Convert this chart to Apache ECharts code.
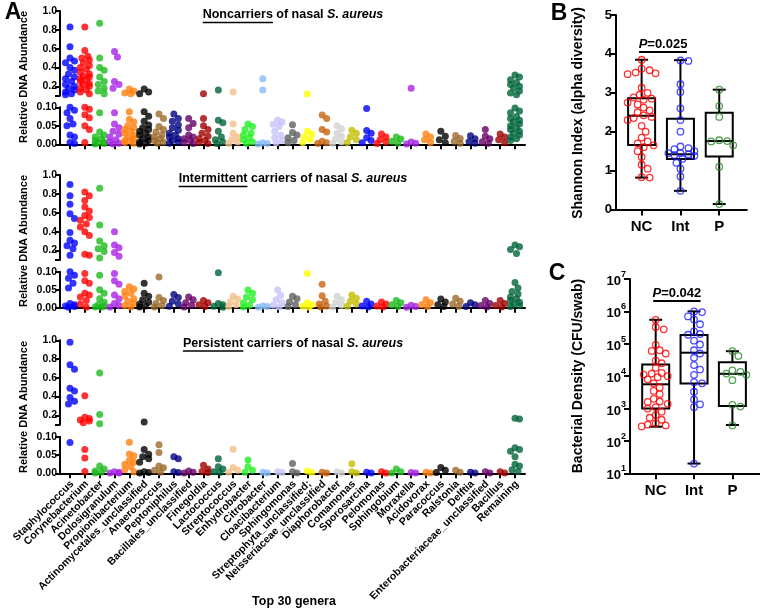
<!DOCTYPE html>
<html><head><meta charset="utf-8">
<script src="https://cdn.jsdelivr.net/npm/echarts@6/dist/echarts.min.js"></script>
<style>html,body{margin:0;padding:0;background:#fff}#c{width:760px;height:611px}</style>
</head><body><div id="c"></div>
<script>
// ---------------- DATA ----------------
const genera = ['Staphylococcus','Corynebacterium','Acinetobacter','Dolosigranulum','Propionibacterium','Actinomycetales_unclassified','Anaerococcus','Peptoniphilus','Bacillales_unclassified','Finegoldia','Lactococcus','Streptococcus','Enhydrobacter','Citrobacter','Cloacibacterium','Sphingomonas','Streptophyta_unclassified;','Neisseriaceae_unclassified','Diaphorobacter','Comamonas','Sporosarcina','Pelomonas','Sphingobium','Moraxella','Acidovorax','Paracoccus','Ralstonia','Delftia','Enterobacteriaceae_unclassified','Bacillus','Remaining'];
const generaColors = ['#0000FF','#FF0000','#1DBA1D','#A823E6','#FF7F0E','#000000','#9C6A2A','#000080','#660066','#A00000','#00643A','#F5BE88','#22F022','#86BAF5','#C4C4FA','#606060','#FFFF00','#C8640F','#D2D2D2','#C6BE00','#0000FF','#FF0000','#1DBA1D','#A823E6','#FF7F0E','#000000','#9C6A2A','#000080','#660066','#A00000','#00643A'];
const panelTitles = [['Noncarriers',' of nasal ','S. aureus'],['Intermittent',' carriers of nasal ','S. aureus'],['Persistent',' carriers of nasal ','S. aureus']];
const upperTicks = [0.1,0.2,0.4,0.6,0.8,1.0];
const upperLabels = [0.2,0.4,0.6,0.8,1.0];
const lowerTicks = [0,0.05,0.1];

const ncAbund = [
[0.83,0.62,0.5,0.47,0.45,0.4,0.37,0.33,0.3,0.28,0.25,0.22,0.2,0.18,0.16,0.14,0.12,0.11,0.1,0.092,0.085,0.07,0.055,0.05,0.025,0.02,0.005,0.002],
[0.83,0.58,0.52,0.5,0.48,0.45,0.42,0.4,0.38,0.35,0.33,0.31,0.3,0.28,0.27,0.25,0.23,0.22,0.2,0.18,0.16,0.14,0.12,0.1,0.095,0.08,0.072,0.05,0.04,0.005],
[0.87,0.5,0.4,0.37,0.3,0.25,0.22,0.18,0.15,0.12,0.085,0.033,0.025,0.02,0.015,0.01,0.006,0.004,0.002,0.001],
[0.57,0.51,0.25,0.22,0.18,0.085,0.055,0.045,0.035,0.028,0.02,0.012,0.006,0.003,0.001],
[0.17,0.15,0.13,0.12,0.088,0.068,0.06,0.05,0.045,0.04,0.035,0.03,0.025,0.02,0.015,0.01,0.008,0.005,0.003],
[0.17,0.14,0.12,0.088,0.076,0.062,0.052,0.045,0.04,0.035,0.03,0.025,0.02,0.015,0.01,0.006,0.003,0.001],
[0.082,0.07,0.048,0.04,0.033,0.025,0.02,0.015,0.01,0.006,0.003],
[0.082,0.07,0.062,0.052,0.045,0.038,0.03,0.025,0.02,0.015,0.01,0.006,0.003],
[0.07,0.056,0.045,0.025,0.02,0.015,0.01,0.005,0.002],
[0.12,0.07,0.05,0.04,0.03,0.022,0.015,0.01,0.005,0.002],
[0.16,0.065,0.058,0.035,0.02,0.012,0.006,0.002],
[0.14,0.055,0.03,0.02,0.012,0.006,0.002],
[0.055,0.048,0.04,0.03,0.025,0.018,0.012,0.006,0.002],
[0.28,0.16,0.004,0.002,0.001],
[0.066,0.06,0.054,0.048,0.035,0.025,0.018,0.01,0.004],
[0.053,0.032,0.025,0.018,0.01,0.004],
[0.118,0.035,0.028,0.02,0.012,0.005],
[0.079,0.07,0.04,0.033,0.008,0.004,0.002],
[0.05,0.042,0.03,0.022,0.014,0.006,0.002],
[0.038,0.03,0.02,0.012,0.005],
[0.097,0.037,0.03,0.018,0.01,0.004],
[0.028,0.02,0.012,0.006,0.002],
[0.02,0.014,0.008,0.003],
[0.18,0.006,0.003,0.001],
[0.028,0.02,0.012,0.005],
[0.035,0.022,0.012,0.004],
[0.024,0.016,0.008,0.003],
[0.023,0.015,0.007,0.003],
[0.04,0.022,0.015,0.007,0.003],
[0.028,0.02,0.012,0.004],
[0.32,0.3,0.27,0.24,0.22,0.2,0.18,0.15,0.13,0.11,0.098,0.09,0.085,0.075,0.07,0.065,0.06,0.055,0.05,0.045,0.04,0.035,0.03,0.025,0.02,0.015,0.01]
];
const intAbund = [
[0.9,0.78,0.69,0.59,0.54,0.39,0.31,0.28,0.25,0.22,0.15,0.1,0.09,0.082,0.068,0.055,0.012,0.008,0.005,0.003,0.001],
[0.82,0.78,0.73,0.66,0.62,0.57,0.55,0.52,0.48,0.45,0.4,0.36,0.16,0.15,0.095,0.075,0.068,0.04,0.035,0.03,0.02,0.01,0.001],
[0.86,0.47,0.3,0.25,0.22,0.19,0.12,0.09,0.05,0.04,0.025,0.015,0.008,0.004,0.002,0.001],
[0.4,0.26,0.23,0.18,0.14,0.095,0.075,0.065,0.035,0.025,0.012,0.006,0.002],
[0.058,0.052,0.045,0.04,0.032,0.025,0.018,0.012,0.006,0.002],
[0.068,0.04,0.032,0.022,0.015,0.01,0.005,0.002],
[0.085,0.028,0.02,0.012,0.006,0.002],
[0.037,0.028,0.018,0.01,0.004],
[0.03,0.022,0.014,0.007,0.002],
[0.02,0.014,0.008,0.003],
[0.097,0.012,0.008,0.004,0.001],
[0.032,0.024,0.016,0.008,0.003],
[0.049,0.04,0.03,0.022,0.014,0.007,0.002],
[0.005,0.003,0.001],
[0.049,0.034,0.022,0.014,0.007,0.002],
[0.032,0.025,0.016,0.008,0.003],
[0.095,0.014,0.008,0.004,0.001],
[0.065,0.033,0.018,0.01,0.005,0.002],
[0.032,0.022,0.014,0.007,0.002],
[0.035,0.026,0.018,0.01,0.004],
[0.018,0.01,0.005,0.002],
[0.016,0.01,0.005,0.002],
[0.02,0.014,0.008,0.003],
[0.007,0.003,0.001],
[0.022,0.014,0.008,0.003],
[0.024,0.016,0.008,0.003],
[0.026,0.018,0.01,0.004],
[0.014,0.008,0.003],
[0.02,0.012,0.006,0.002],
[0.02,0.012,0.006,0.002],
[0.26,0.24,0.21,0.17,0.07,0.055,0.045,0.038,0.03,0.025,0.02,0.015,0.01,0.006,0.003]
];
const perAbund = [
[0.98,0.74,0.69,0.49,0.46,0.39,0.35,0.32,0.084],
[0.41,0.18,0.165,0.15,0.14,0.12,0.065,0.042,0.005],
[0.65,0.21,0.11,0.02,0.012,0.006,0.003,0.001],
[0.004,0.002,0.001,0.001],
[0.085,0.053,0.048,0.035,0.03,0.025,0.018,0.01,0.004],
[0.13,0.065,0.052,0.045,0.04,0.03,0.004,0.002,0.001],
[0.078,0.057,0.02,0.015,0.008,0.003],
[0.045,0.04,0.004,0.002],
[0.006,0.003,0.001],
[0.022,0.012,0.005,0.002],
[0.04,0.018,0.012,0.004,0.002],
[0.066,0.016,0.008,0.003],
[0.036,0.018,0.008,0.003],
[0.003,0.001],
[0.004,0.002],
[0.027,0.004,0.001],
[0.006,0.002],
[0.003,0.001],
[0.004,0.001],
[0.026,0.004,0.001],
[0.003,0.001],
[0.004,0.001],
[0.012,0.004,0.001],
[0.002,0.001],
[0.003,0.001],
[0.016,0.008,0.002],
[0.008,0.003],
[0.003,0.001],
[0.004,0.001],
[0.004,0.001],
[0.17,0.16,0.07,0.065,0.06,0.045,0.025,0.02,0.01,0.005]
];

const groups = ['NC','Int','P'];
const groupColors = ['#FF0000','#1F1FFF','#2A8A2A'];
const shannonNC = [3.85,3.62,3.58,3.52,3.5,3.48,3.13,3.0,2.95,2.88,2.85,2.82,2.75,2.7,2.62,2.55,2.5,2.42,2.38,2.35,2.3,2.15,2.0,1.85,1.75,1.7,1.65,1.6,1.5,1.35,1.15,1.05,0.83,0.82];
const shannonInt = [3.83,3.82,3.22,3.02,2.6,2.3,2.0,1.62,1.58,1.55,1.5,1.45,1.45,1.42,1.4,1.38,1.3,1.2,1.05,0.85,0.48];
const shannonP = [3.08,2.66,2.38,1.78,1.76,1.75,1.65,1.1,0.14];
const shannonStats = [[0.82,1.66,2.41,2.86,3.85],[0.48,1.30,1.42,2.33,3.84],[0.14,1.36,1.76,2.49,3.08]];
const densityNC = [550000,330000,280000,93000,63000,60000,50000,30000,25000,18000,12600,12000,11200,10000,9300,8000,6000,4500,3500,2800,2000,1650,1600,1400,1100,1000,800,630,520,450,350,320,300,280];
const densityInt = [1000000,950000,700000,560000,400000,240000,200000,190000,125000,95000,63000,50000,37000,22000,16000,11000,6500,6000,3300,1900,1350,1100,20];
const densityP = [59000,42000,15000,13500,12000,11000,7500,1300,1150,300];
const densityStats = [[275,1000,5600,23000,550000],[20,5900,53000,185000,1000000],[310,1200,11800,27000,59000]];
const pValues = ['0.025','0.042'];
const pLevels = [4.05, 2100000];
const shannonTicks = [0,1,2,3,4,5];
const densityTicks = [10,100,1000,10000,100000,1000000,10000000];

// ---------------- LAYOUT ----------------
const FONT = "'Liberation Sans', Arial, Helvetica, sans-serif";
const A_LEFT = 60, A_WIDTH = 465, A_XMIN = -0.674, A_XMAX = 30.674;
const aGrids = [{top:11,h:84.7},{top:107.3,h:37},{top:175,h:85},{top:271.7,h:36},{top:340.3,h:84.4},{top:436.7,h:36.6}];
const B = {left:616, top:15, width:130.8, height:194.5, xmin:0.34, xmax:3.71};
const C = {left:630, top:279, width:130, height:194.3, xmin:0.33, xmax:3.72};

function swarm(pys, diam, step, maxOff){
  const placed=[], offs=new Array(pys.length).fill(0);
  const order=pys.map((y,i)=>i).sort((a,b)=>pys[b]-pys[a]);
  const n=Math.floor(maxOff/step);
  for(const i of order){
    let best=0, bestOv=Infinity;
    for(let k=0;k<=2*n;k++){
      const off=(k%2?1:-1)*Math.ceil(k/2)*step;
      let ov=0;
      for(const p of placed){const d=Math.hypot(p.x-off,p.y-pys[i]); if(d<diam) ov+=diam-d;}
      if(ov<bestOv-1e-9){bestOv=ov;best=off;if(ov===0)break;}
    }
    placed.push({x:best,y:pys[i]}); offs[i]=best;
  }
  return offs;
}

const grids=[], xAxes=[], yAxes=[], series=[];
const catIdx = genera.map((g,i)=>i);
const labelStyle = {color:'#000', fontWeight:'bold', fontFamily:FONT};
aGrids.forEach((g,i)=>{
  const up = i%2===0;
  grids.push({left:A_LEFT, top:g.top, width:A_WIDTH, height:g.h, outerBoundsMode:'none', containLabel:false});
  xAxes.push({type:'value', gridIndex:i, min:A_XMIN, max:A_XMAX,
    axisLine:{show:!up, onZero:false, lineStyle:{color:'#000', width:2}},
    axisTick:{show:!up, customValues:catIdx, length:5, lineStyle:{color:'#000', width:2}},
    axisLabel:{show:false},
    splitLine:{show:false}});
  yAxes.push({type:'value', gridIndex:i, min:up?0.1:0, max:up?1.0:0.1,
    axisLine:{show:true, onZero:false, lineStyle:{color:'#000', width:2}},
    axisTick:{show:true, customValues:up?upperTicks:lowerTicks, length:5, lineStyle:{color:'#000', width:2}},
    axisLabel:Object.assign({customValues:up?upperLabels:lowerTicks, formatter:v=>up?v.toFixed(1):v.toFixed(2), fontSize:10.5, margin:3, showMinLabel:true, showMaxLabel:true}, labelStyle),
    splitLine:{show:false}});
});
const pxPerCatA = A_WIDTH/(A_XMAX-A_XMIN);
[ncAbund,intAbund,perAbund].forEach((rows,pi)=>{
  const gu=aGrids[2*pi], gl=aGrids[2*pi+1];
  const pxU=gu.h/0.9, pxL=gl.h/0.1;
  const upData=[], loData=[];
  rows.forEach((vals,ci)=>{
    const up=vals.filter(v=>v>0.1), lo=vals.filter(v=>v<=0.1);
    const oU=swarm(up.map(v=>v*pxU),6,1.5,5.5), oL=swarm(lo.map(v=>v*pxL),6,1.5,5.5);
    up.forEach((v,k)=>upData.push({value:[ci+oU[k]/pxPerCatA,v], itemStyle:{color:generaColors[ci]}}));
    lo.forEach((v,k)=>loData.push({value:[ci+oL[k]/pxPerCatA,v], itemStyle:{color:generaColors[ci]}}));
  });
  series.push({type:'scatter', xAxisIndex:2*pi, yAxisIndex:2*pi, data:upData, symbolSize:7, clip:false, z:3});
  series.push({type:'scatter', xAxisIndex:2*pi+1, yAxisIndex:2*pi+1, data:loData, symbolSize:7, clip:false, z:3});
});
// genus labels under the bottom panel, positioned by the axis scale
series.push({type:'custom', xAxisIndex:5, yAxisIndex:5, clip:false, z:5, silent:true,
  encode:{x:0, y:1},
  data:catIdx.map(i=>[i,0]),
  renderItem:function(params, api){
    const p=api.coord([api.value(0), 0]);
    return {type:'text', x:p[0]+2, y:p[1]+9, rotation:Math.PI/4,
      style:{text:genera[api.value(0)], font:'bold 10.5px '+FONT, fill:'#000',
        align:'right', verticalAlign:'middle', textAlign:'right', textVerticalAlign:'middle'}};
  }});

// Panels B and C
[B,C].forEach((P,k)=>{
  const gi=6+k;
  grids.push({left:P.left, top:P.top, width:P.width, height:P.height, outerBoundsMode:'none', containLabel:false});
  xAxes.push({type:'value', gridIndex:gi, min:P.xmin, max:P.xmax,
    axisLine:{show:true, onZero:false, lineStyle:{color:'#000', width:2}},
    axisTick:{show:true, customValues:[1,2,3], length:6, lineStyle:{color:'#000', width:2}},
    axisLabel:Object.assign({customValues:[1,2,3], formatter:v=>groups[Math.round(v)-1], fontSize:15, margin:10, showMinLabel:true, showMaxLabel:true}, labelStyle),
    splitLine:{show:false}});
});
yAxes.push({type:'value', gridIndex:6, min:0, max:5, interval:1,
  axisLine:{show:true, onZero:false, lineStyle:{color:'#000', width:2}},
  axisTick:{show:true, customValues:shannonTicks, length:6, lineStyle:{color:'#000', width:2}},
  axisLabel:Object.assign({customValues:shannonTicks, fontSize:13, margin:4, showMinLabel:true, showMaxLabel:true}, labelStyle),
  splitLine:{show:false}});
yAxes.push({type:'log', logBase:10, gridIndex:7, min:10, max:10000000,
  axisLine:{show:true, onZero:false, lineStyle:{color:'#000', width:2}},
  axisTick:{show:true, customValues:densityTicks, length:6, lineStyle:{color:'#000', width:2}},
  minorTick:{show:false},
  axisLabel:Object.assign({customValues:densityTicks, margin:4, showMinLabel:true, showMaxLabel:true,
    formatter:v=>'{b|10}{s|'+Math.round(Math.log10(v))+'}',
    rich:{b:{fontSize:13, fontWeight:'bold', fontFamily:FONT, color:'#000', verticalAlign:'bottom', lineHeight:18},
          s:{fontSize:9, fontWeight:'bold', fontFamily:FONT, color:'#000', verticalAlign:'top', lineHeight:18}}}, labelStyle),
  splitLine:{show:false}});

function boxRender(params, api){
  const x=api.value(0);
  const p=[1,2,3,4,5].map(k=>api.coord([x, api.value(k)]));
  const cx=p[0][0], bw=27, cw=13;
  const st={stroke:'#000', lineWidth:2, fill:null};
  return {type:'group', children:[
    {type:'line', shape:{x1:cx,y1:p[4][1],x2:cx,y2:p[3][1]}, style:st},
    {type:'line', shape:{x1:cx,y1:p[1][1],x2:cx,y2:p[0][1]}, style:st},
    {type:'line', shape:{x1:cx-cw/2,y1:p[4][1],x2:cx+cw/2,y2:p[4][1]}, style:st},
    {type:'line', shape:{x1:cx-cw/2,y1:p[0][1],x2:cx+cw/2,y2:p[0][1]}, style:st},
    {type:'rect', shape:{x:cx-bw/2,y:p[3][1],width:bw,height:p[1][1]-p[3][1]}, style:{stroke:'#000', lineWidth:2, fill:'none'}},
    {type:'line', shape:{x1:cx-bw/2,y1:p[2][1],x2:cx+bw/2,y2:p[2][1]}, style:st}
  ]};
}
function pRender(text){
  return function(params, api){
    const a=api.coord([api.value(0), api.value(2)]), b=api.coord([api.value(1), api.value(2)]);
    return {type:'group', children:[
      {type:'line', shape:{x1:a[0]-2.5,y1:a[1],x2:b[0]+6.5,y2:b[1]}, style:{stroke:'#000', lineWidth:2}},
      {type:'text', x:(a[0]-2.5+b[0]+6.5)/2, y:a[1]-1.5, style:{text:'{i|P}=' + text, fontSize:13, fontWeight:'bold', fontFamily:FONT, fill:'#000',
        align:'center', verticalAlign:'bottom', textAlign:'center', textVerticalAlign:'bottom',
        rich:{i:{fontSize:13, fontWeight:'bold', fontStyle:'italic', fontFamily:FONT, fill:'#000'}}}}
    ]};
  };
}
[[shannonStats,[shannonNC,shannonInt,shannonP],6,B,v=>v*B.height/5],
 [densityStats,[densityNC,densityInt,densityP],7,C,v=>Math.log10(v)*C.height/6]].forEach(([stats,pts,gi,P,toPx],k)=>{
  series.push({type:'custom', xAxisIndex:gi, yAxisIndex:gi, renderItem:boxRender, z:2,
    encode:{x:0, y:[1,2,3,4,5]},
    data:stats.map((s,j)=>[j+1].concat(s))});
  const pxPerX = P.width/(P.xmax-P.xmin);
  pts.forEach((vals,j)=>{
    const offs=swarm(vals.map(toPx),6.5,2,14);
    series.push({type:'scatter', xAxisIndex:gi, yAxisIndex:gi, z:4, clip:false, symbolSize:6.5,
      itemStyle:{color:'rgba(255,255,255,0)', borderColor:groupColors[j], borderWidth:1.3},
      data:vals.map((v,q)=>[j+1+offs[q]/pxPerX, v])});
  });
  series.push({type:'custom', xAxisIndex:gi, yAxisIndex:gi, renderItem:pRender(pValues[k]), z:3,
    encode:{x:[0,1], y:2}, data:[[1,2,pLevels[k]]]});
});

// ---------------- GRAPHICS (text) ----------------
const mctx=document.createElement('canvas').getContext('2d');
function tw(t,f){mctx.font=f;return mctx.measureText(t).width;}
const tfB='bold 12.5px '+FONT, tfI='italic bold 12.5px '+FONT;
const graphics=[];
function txt(x,y,text,font,opts){
  return Object.assign({type:'text', x:x, y:y, silent:true, style:{text:text, font:font, fill:'#000',
    textAlign:(opts&&opts.align)||'center', textVerticalAlign:'middle', align:(opts&&opts.align)||'center', verticalAlign:'middle'}}, (opts&&opts.rot)?{rotation:opts.rot}:{});
}
const titleY=[15,179,343.5], titleCx=293;
panelTitles.forEach((parts,i)=>{
  const w1=tw(parts[0],tfB), w2=tw(parts[1],tfB), w3=tw(parts[2],tfI);
  const x0=titleCx-(w1+w2+w3)/2;
  graphics.push(txt(x0,titleY[i],parts[0],tfB,{align:'left'}));
  graphics.push(txt(x0+w1,titleY[i],parts[1],tfB,{align:'left'}));
  graphics.push(txt(x0+w1+w2,titleY[i],parts[2],tfI,{align:'left'}));
  graphics.push({type:'line', silent:true, shape:{x1:x0,y1:titleY[i]+7.5,x2:x0+w1,y2:titleY[i]+7.5}, style:{stroke:'#000', lineWidth:1.3}});
});
[77,241,407].forEach(y=>graphics.push(txt(24,y,'Relative DNA Abundance','bold 11px '+FONT,{rot:Math.PI/2})));
graphics.push(txt(578,113,'Shannon Index (alpha diversity)','bold 14px '+FONT,{rot:Math.PI/2}));
graphics.push(txt(578,376,'Bacterial Density (CFU/swab)','bold 14px '+FONT,{rot:Math.PI/2}));
graphics.push(txt(294,602,'Top 30 genera','bold 12.5px '+FONT));
graphics.push(txt(13,13,'A','bold 23px '+FONT));
graphics.push(txt(559,13.5,'B','bold 23px '+FONT));
graphics.push(txt(557,274,'C','bold 23px '+FONT));

const chart = echarts.init(document.getElementById('c'), null, {renderer:'canvas'});
chart.setOption({animation:false, backgroundColor:'#fff', grid:grids, xAxis:xAxes, yAxis:yAxes, series:series, graphic:graphics});
</script></body></html>
